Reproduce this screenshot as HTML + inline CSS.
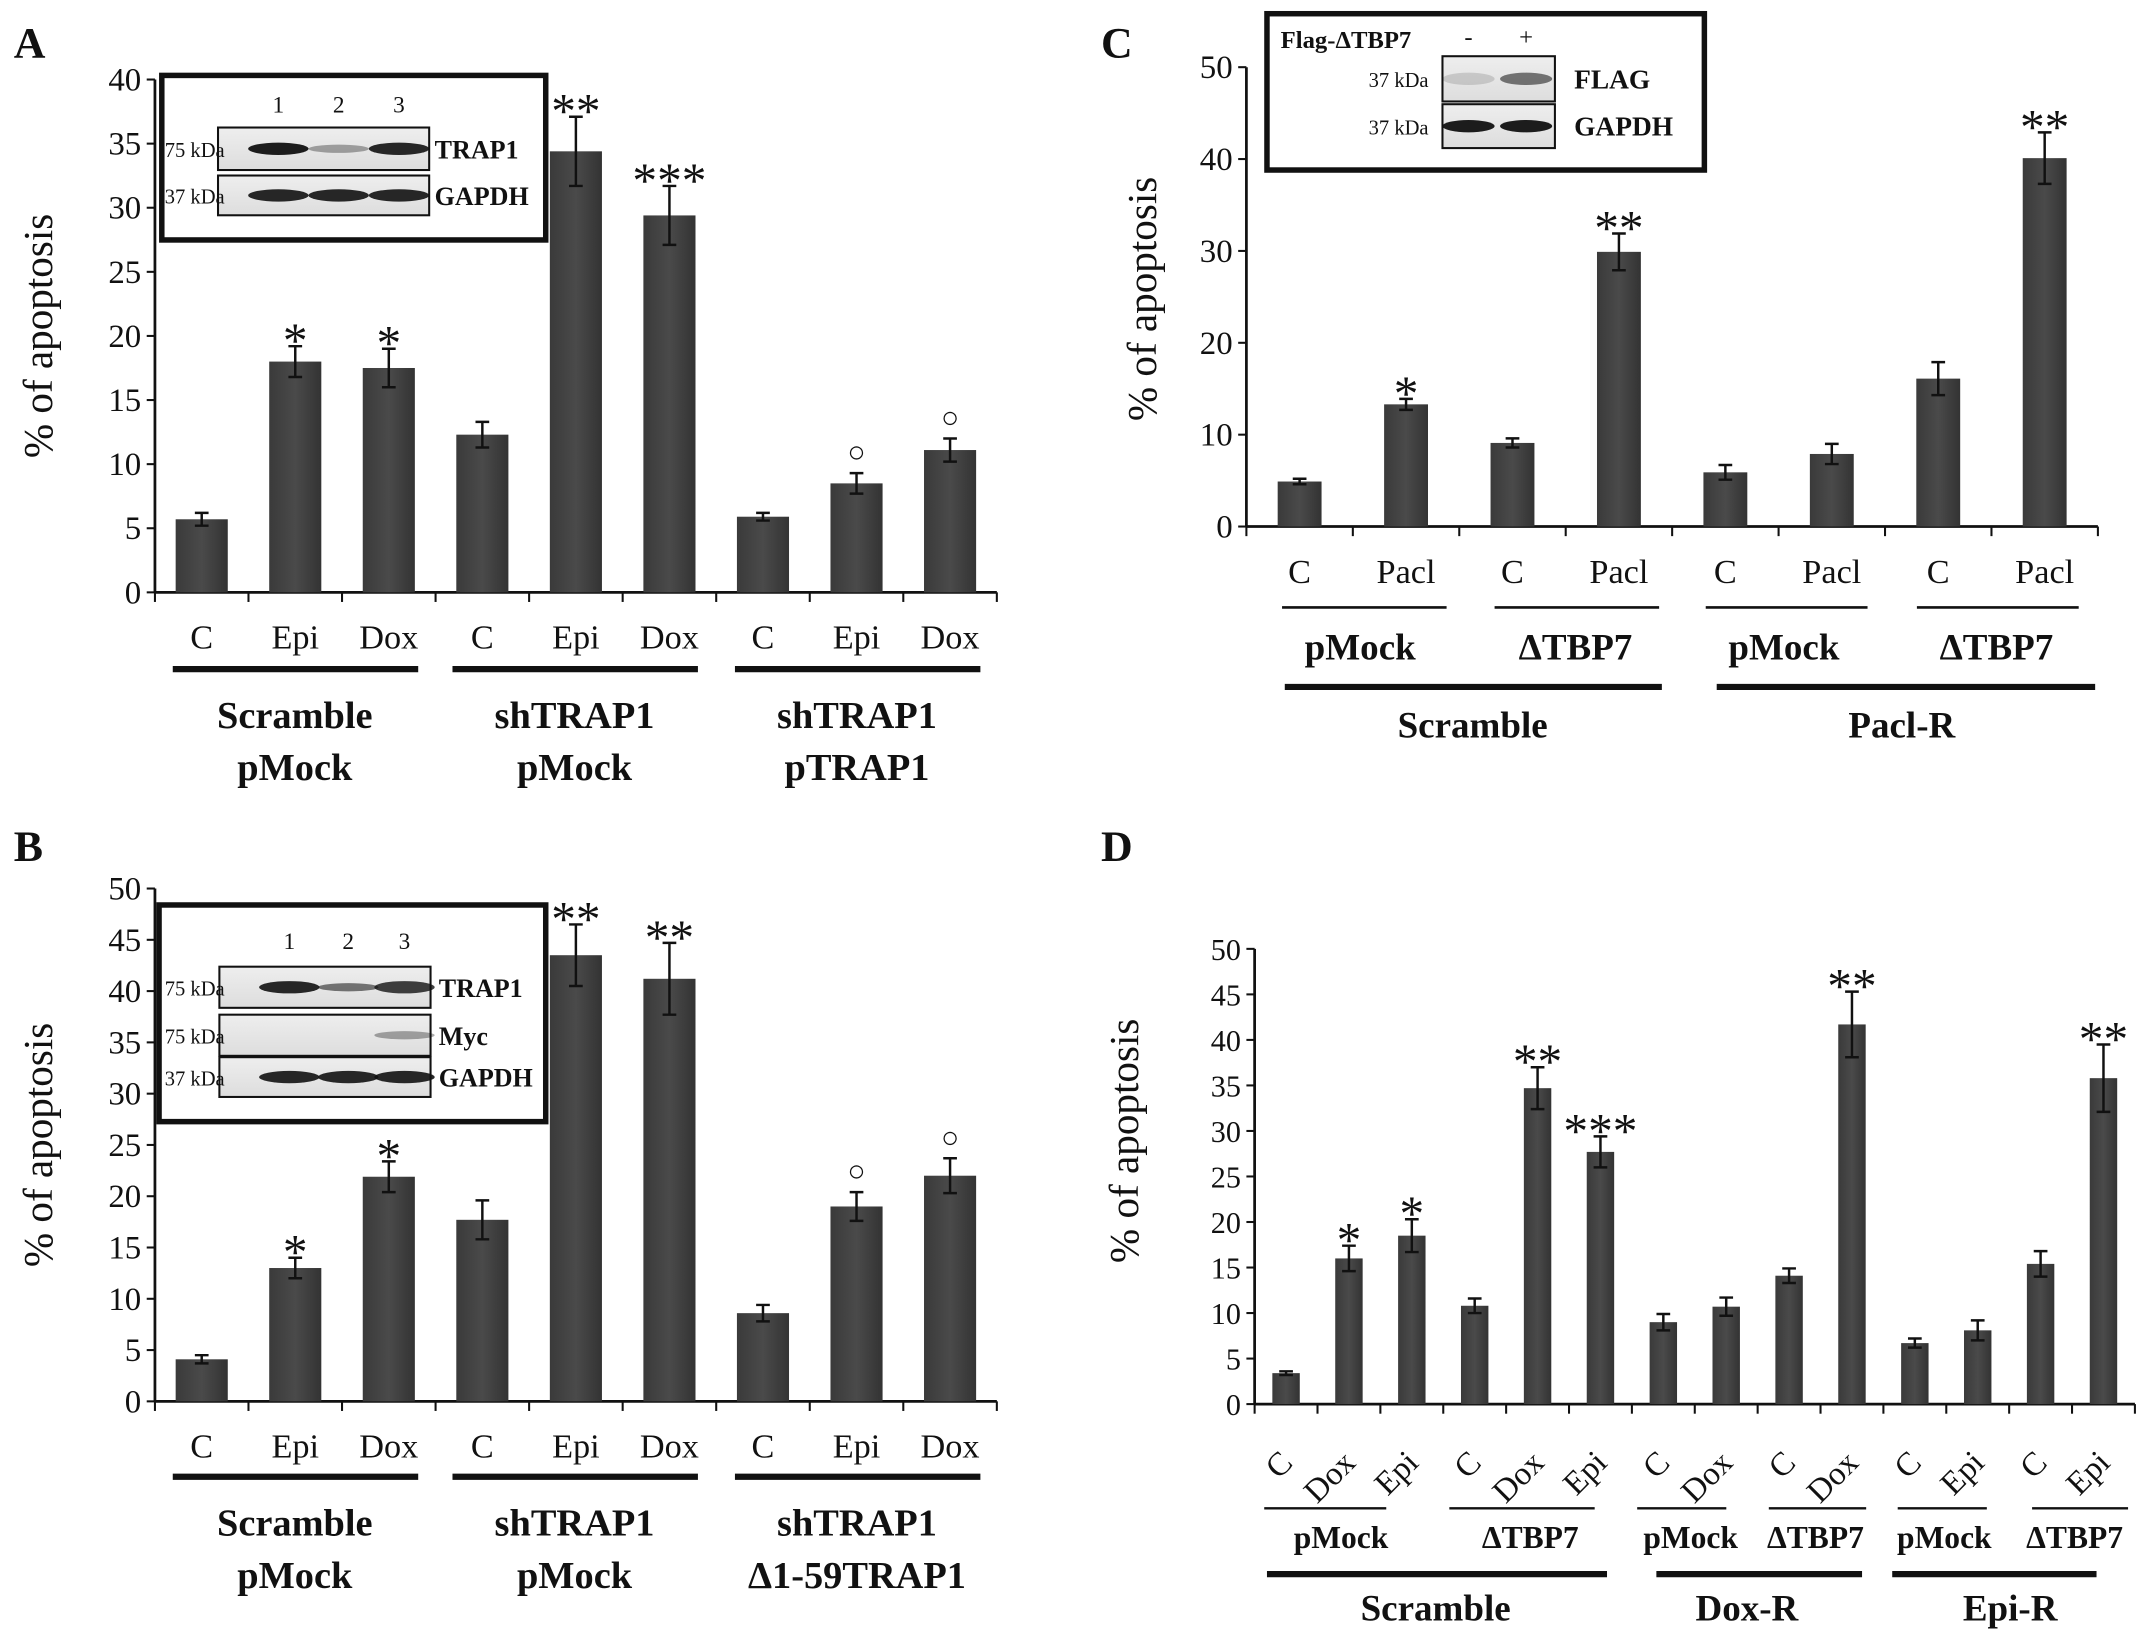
<!DOCTYPE html>
<html><head><meta charset="utf-8">
<style>
html,body{margin:0;padding:0;background:#fff;}
svg{display:block;font-family:"Liberation Serif",serif;}
text{font-family:"Liberation Serif",serif;}
</style></head>
<body>
<svg id="fig" width="2150" height="1642" viewBox="0 0 1568 1197.5" preserveAspectRatio="none" xmlns="http://www.w3.org/2000/svg">
<defs>
<linearGradient id="barg" x1="0" x2="1" y1="0" y2="0">
<stop offset="0" stop-color="#3a3a3a"/><stop offset="0.5" stop-color="#4a4a4a"/><stop offset="1" stop-color="#333"/>
</linearGradient>
<linearGradient id="blot" x1="0" x2="0" y1="0" y2="1">
<stop offset="0" stop-color="#eee"/><stop offset="1" stop-color="#ddd"/>
</linearGradient>
</defs>
<g id="root"></g>
</svg>
<script>
// ---- Panel A data ----
const catsA = ["C","Epi","Dox","C","Epi","Dox","C","Epi","Dox"];
const valsA = [5.7,18,17.5,12.3,34.4,29.4,5.9,8.5,11.1];
const errsA = [0.5,1.2,1.5,1.0,2.7,2.3,0.3,0.8,0.9];
const marksA = ["","*","*","","**","***","","○","○"];
const ticksA = [0,5,10,15,20,25,30,35,40];
// ---- Panel B data ----
const catsB = ["C","Epi","Dox","C","Epi","Dox","C","Epi","Dox"];
const valsB = [4.1,13,21.9,17.7,43.5,41.2,8.6,19,22];
const errsB = [0.4,1.0,1.5,1.9,3.0,3.5,0.8,1.4,1.7];
const marksB = ["","*","*","","**","**","","○","○"];
const ticksB = [0,5,10,15,20,25,30,35,40,45,50];
// ---- Panel C data ----
const catsC = ["C","Pacl","C","Pacl","C","Pacl","C","Pacl"];
const valsC = [4.9,13.3,9.1,29.9,5.9,7.9,16.1,40.1];
const errsC = [0.3,0.6,0.5,2.0,0.8,1.1,1.8,2.8];
const marksC = ["","*","","**","","","","**"];
const ticksC = [0,10,20,30,40,50];
// ---- Panel D data ----
const catsD = ["C","Dox","Epi","C","Dox","Epi","C","Dox","C","Dox","C","Epi","C","Epi"];
const valsD = [3.4,16,18.5,10.8,34.7,27.7,9,10.7,14.1,41.7,6.7,8.1,15.4,35.8];
const errsD = [0.2,1.4,1.8,0.8,2.3,1.7,0.9,1.0,0.8,3.6,0.5,1.1,1.4,3.7];
const marksD = ["","*","*","","**","***","","","","**","","","","**"];
const ticksD = [0,5,10,15,20,25,30,35,40,45,50];

const NS="http://www.w3.org/2000/svg";
const root=document.getElementById('root');
function el(tag,attrs,parent,text){const e=document.createElementNS(NS,tag);for(const k in attrs)e.setAttribute(k,attrs[k]);if(text!==undefined)e.textContent=text;(parent||root).appendChild(e);return e;}
function txt(x,y,s,size,opts,parent){opts=opts||{};const t=el('text',{x:x,y:y,'font-size':size,'font-family':'Liberation Serif, serif','text-anchor':opts.anchor||'middle','font-weight':opts.bold?'bold':'normal',fill:'#111'},parent,s);if(opts.rot)t.setAttribute('transform','rotate('+opts.rot+' '+x+' '+y+')');return t;}

function chart(id,cfg){
  const g=el('g',{});
  
  
  const n=cfg.cats.length, ymax=cfg.ticks[cfg.ticks.length-1];
  const step=(cfg.x1-cfg.x0)/n;
  const xs=i=>cfg.x0+step*(i+0.5);
  const ys=v=>cfg.y0-(cfg.y0-cfg.yTop)*v/ymax;
  const ya=el('line',{x1:cfg.x0,y1:cfg.yTop,x2:cfg.x0,y2:cfg.y0,stroke:'#111','stroke-width':2},g);
  
  const xa=el('line',{x1:cfg.x0,y1:cfg.y0,x2:cfg.x1,y2:cfg.y0,stroke:'#111','stroke-width':2},g);
  
  cfg.ticks.forEach(t=>{
    el('line',{x1:cfg.x0-6,y1:ys(t),x2:cfg.x0,y2:ys(t),stroke:'#111','stroke-width':1.5},g);
    const l=txt(cfg.x0-10,ys(t)+8,String(t),cfg.tickSize,{anchor:'end'},g);
    
  });
  for(let i=0;i<=n;i++){el('line',{x1:cfg.x0+step*i,y1:cfg.y0,x2:cfg.x0+step*i,y2:cfg.y0+7,stroke:'#111','stroke-width':1.5},g);}
  cfg.vals.forEach((v,i)=>{
    const b=el('rect',{x:xs(i)-cfg.bw/2,y:ys(v),width:cfg.bw,height:cfg.y0-ys(v),fill:'url(#barg)'},g);
    
    const e=cfg.errs[i],cx=xs(i);
    const eb=el('path',{d:`M${cx},${ys(v+e)}V${ys(v-e)}M${cx-5},${ys(v+e)}H${cx+5}M${cx-5},${ys(v-e)}H${cx+5}`,stroke:'#111','stroke-width':1.8,fill:'none'},g);
    
    const m=cfg.marks[i];
    if(m){
      const isC=m==='○';
      const a=txt(cx,ys(v+e)-(isC?8:-8),m,isC?22:36,{},g);
      
    }
    let c;
    if(cfg.rotLabels){c=txt(cx+6,cfg.labelY,cfg.cats[i],cfg.labelSize,{rot:-45,anchor:'end'},g);}
    else c=txt(cx,cfg.labelY,cfg.cats[i],cfg.labelSize,{},g);
    
  });
  const yt=txt(cfg.titleX,cfg.titleY,'% of apoptosis',30,{rot:-90},g);
  
}

chart('panel-a',{cats:catsA,vals:valsA,errs:errsA,marks:marksA,ticks:ticksA,x0:113,x1:727,y0:432,yTop:58,bw:38,tickSize:24,labelY:473,labelSize:25,titleX:38,titleY:245});
chart('panel-b',{cats:catsB,vals:valsB,errs:errsB,marks:marksB,ticks:ticksB,x0:113,x1:727,y0:1022,yTop:648,bw:38,tickSize:24,labelY:1063,labelSize:25,titleX:38,titleY:835});
chart('panel-c',{cats:catsC,vals:valsC,errs:errsC,marks:marksC,ticks:ticksC,x0:909,x1:1530,y0:384,yTop:49,bw:32,tickSize:24,labelY:425,labelSize:25,titleX:843,titleY:218});
chart('panel-d',{cats:catsD,vals:valsD,errs:errsD,marks:marksD,ticks:ticksD,x0:915,x1:1557,y0:1024,yTop:692,bw:20,tickSize:22,labelY:1068,labelSize:24,rotLabels:true,titleX:830,titleY:832});

function gline(x1,x2,y,w,name){const l=el('line',{x1:x1,y1:y,x2:x2,y2:y,stroke:'#111','stroke-width':w});}
function glabel(x,y,s,size,name){const t=txt(x,y,s,size,{bold:true});}
[[126,305],[330,509],[536,715]].forEach(p=>gline(p[0],p[1],488,4.5,'panel-a-group-line'));
glabel(215,531,'Scramble',28,'panel-a-group-label');glabel(215,569,'pMock',28,'panel-a-group-label');
glabel(419,531,'shTRAP1',28,'panel-a-group-label');glabel(419,569,'pMock',28,'panel-a-group-label');
glabel(625,531,'shTRAP1',28,'panel-a-group-label');glabel(625,569,'pTRAP1',28,'panel-a-group-label');
[[126,305],[330,509],[536,715]].forEach(p=>gline(p[0],p[1],1077,4.5,'panel-b-group-line'));
glabel(215,1120,'Scramble',28,'panel-b-group-label');glabel(215,1158,'pMock',28,'panel-b-group-label');
glabel(419,1120,'shTRAP1',28,'panel-b-group-label');glabel(419,1158,'pMock',28,'panel-b-group-label');
glabel(625,1120,'shTRAP1',28,'panel-b-group-label');glabel(625,1158,'Δ1-59TRAP1',28,'panel-b-group-label');
[[935,1055],[1090,1210],[1244,1362],[1398,1516]].forEach(p=>gline(p[0],p[1],443,2,'panel-c-subgroup-line'));
glabel(992,481,'pMock',27,'panel-c-subgroup-label');glabel(1149,481,'ΔTBP7',27,'panel-c-subgroup-label');
glabel(1301,481,'pMock',27,'panel-c-subgroup-label');glabel(1456,481,'ΔTBP7',27,'panel-c-subgroup-label');
gline(937,1212,501,4.5,'panel-c-group-line');gline(1252,1528,501,4.5,'panel-c-group-line');
glabel(1074,538,'Scramble',27,'panel-c-group-label');glabel(1387,538,'Pacl-R',27,'panel-c-group-label');
[[922,1011],[1057,1163],[1194,1259],[1290,1361],[1384,1449],[1482,1552]].forEach(p=>gline(p[0],p[1],1100,1.8,'panel-d-subgroup-line'));
[[978,'pMock'],[1116,'ΔTBP7'],[1233,'pMock'],[1324,'ΔTBP7'],[1418,'pMock'],[1513,'ΔTBP7']].forEach(p=>glabel(p[0],1129,p[1],23,'panel-d-subgroup-label'));
gline(924,1172,1148,4.5,'panel-d-group-line');gline(1208,1358,1148,4.5,'panel-d-group-line');gline(1380,1529,1148,4.5,'panel-d-group-line');
glabel(1047,1182,'Scramble',27,'panel-d-group-label');glabel(1274,1182,'Dox-R',27,'panel-d-group-label');glabel(1466,1182,'Epi-R',27,'panel-d-group-label');

[['A',10,42],['B',10,628],['C',803,42],['D',803,628]].forEach(p=>{const t=txt(p[1],p[2],p[0],32,{bold:true,anchor:'start'});});

function band(g,x,y,w,h,op){el('ellipse',{cx:x+w/2,cy:y,rx:w/2,ry:h/2,fill:'#111','fill-opacity':op},g);}
function inset(name,box,nums,numY,rows,blotX0,blotX1,lanes,kdaX,nameX,bands){
  const g=el('g',{});
  el('rect',{x:box[0],y:box[1],width:box[2]-box[0],height:box[3]-box[1],fill:'#fff',stroke:'#111','stroke-width':4},g);
  nums.forEach((s,i)=>txt(lanes[i],numY,s,17,{},g));
  rows.forEach((r,ri)=>{
    el('rect',{x:blotX0,y:r[0],width:blotX1-blotX0,height:r[1]-r[0],fill:'url(#blot)',stroke:'#111','stroke-width':1.5},g);
    const cy=(r[0]+r[1])/2;
    lanes.forEach((lx,li)=>{const op=bands[ri][li];if(op>0)band(g,lx-22,cy,44,op>0.6?9:6,op);});
    txt(kdaX,cy+6,r[2],15,{},g);
    txt(nameX,cy+7,r[3],19,{bold:true,anchor:'start'},g);
  });
}
inset('panel-a-western-blot-inset',[118,55,398,175],['1','2','3'],82,[[93,124,'75 kDa','TRAP1'],[128,157,'37 kDa','GAPDH']],159,313,[203,247,291],142,317,[[0.95,0.35,0.9],[0.9,0.9,0.9]]);
inset('panel-b-western-blot-inset',[116,660,398,818],['1','2','3'],692,[[705,735,'75 kDa','TRAP1'],[740,770,'75 kDa','Myc'],[771,800,'37 kDa','GAPDH']],160,314,[211,254,295],142,320,[[0.9,0.55,0.8],[0,0,0.35],[0.9,0.9,0.9]]);
(function(){
  const g=el('g',{});
  el('rect',{x:924,y:10,width:319,height:114,fill:'#fff',stroke:'#111','stroke-width':4},g);
  txt(934,35,'Flag-ΔTBP7',18,{bold:true,anchor:'start'},g);
  txt(1071,33,'-',18,{},g);txt(1113,33,'+',18,{},g);
  [[41,74,'37 kDa','FLAG',[0.15,0.55]],[76,108,'37 kDa','GAPDH',[0.95,0.95]]].forEach(r=>{
    el('rect',{x:1052,y:r[0],width:82,height:r[1]-r[0],fill:'url(#blot)',stroke:'#111','stroke-width':1.5},g);
    const cy=(r[0]+r[1])/2;
    [1071,1113].forEach((lx,i)=>band(g,lx-19,cy,38,9,r[4][i]));
    txt(1020,cy+6,r[2],15,{},g);
    txt(1148,cy+7,r[3],20,{bold:true,anchor:'start'},g);
  });
})();
</script>
</body></html>
